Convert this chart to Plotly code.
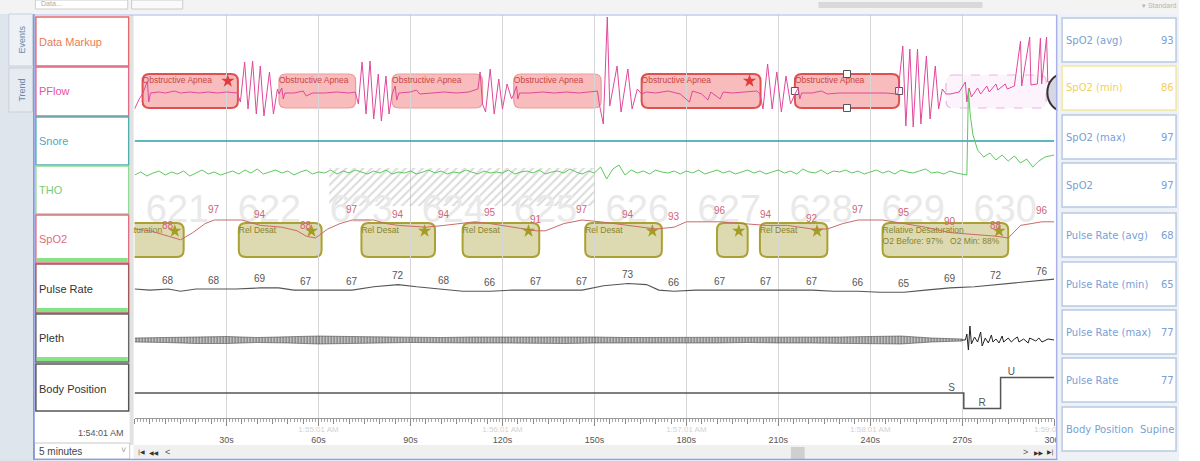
import plotly.graph_objects as go

# ---------------------------------------------------------------- data
epoch_no = [621, 622, 623, 624, 625, 626, 627, 628, 629, 630]
epoch_mid = [14, 44, 74, 104, 134, 164, 194, 224, 254, 284]

apnea_start = [2.6, 47.1, 84.0, 123.7, 165.4, 215.4]
apnea_end = [33.7, 72.1, 113.5, 152.2, 204.2, 249.4]
apnea_label = ["Obstructive Apnea"] * 6
apnea_flagged = [True, False, False, False, True, True]
apnea_star_t = [30.4, 200.6]
apnea_selected = 5
pending_start, pending_end = 264.7, 297.4

desat_start = [-22.0, 34.0, 74.0, 107.0, 147.0, 190.0, 204.0, 244.0]
desat_end = [16.0, 61.0, 98.0, 132.0, 172.0, 200.0, 226.0, 285.0]
desat_label = ["Relative Desaturation", "Rel Desat", "Rel Desat", "Rel Desat",
               "Rel Desat", "", "Rel Desat", "Relative Desaturation"]
desat_star_t = [13.1, 57.7, 94.6, 128.5, 168.9, 197.1, 222.6, 282.0]
desat_detail = "O2 Before: 97%   O2 Min: 88%"

artifact_start, artifact_end = 63.5, 150.0

value_label_t = [11, 26, 41, 56, 71, 86, 101, 116, 131, 146,
                 161, 176, 191, 206, 221, 236, 251, 266, 281, 296]

spo2_t = [0, 5, 11, 15, 19, 23, 26, 35, 41, 48,
          53, 56, 59, 63, 67, 71, 78, 82, 86, 95,
          101, 106, 111, 116, 124, 131, 134, 140, 146, 152,
          161, 170, 176, 180, 191, 200, 206, 213, 221, 226,
          231, 236, 244, 251, 258, 266, 275, 281, 285, 289,
          296, 300]
spo2_v = [92, 91, 88, 86, 90, 95, 97, 97, 94, 93,
          91, 88, 87, 92, 95, 97, 97, 95, 94, 93,
          94, 95, 96, 95, 93, 91, 91, 95, 97, 96,
          94, 92, 93, 96, 96, 95, 94, 94, 92, 92,
          95, 97, 97, 95, 93, 90, 89, 88, 87, 94,
          96, 96]

pulse_t = [0, 5, 11, 15, 20, 26, 33, 41, 47, 52,
           56, 63, 71, 78, 86, 92, 101, 107, 116, 123,
           131, 138, 146, 153, 161, 167, 171, 176, 183, 191,
           198, 206, 213, 221, 228, 236, 243, 251, 258, 266,
           274, 281, 288, 296, 300]
pulse_v = [68, 67, 68, 66, 68, 68, 68, 69, 69, 67,
           67, 67, 67, 70, 72, 70, 68, 66, 66, 67,
           67, 67, 67, 71, 73, 72, 67, 66, 67, 67,
           67, 67, 67, 67, 66, 66, 65, 65, 67, 69,
           70, 72, 74, 76, 77]

pflow_pts = [
    (0, -15), (1.5, -5), (2.6, 0),
    (4.2, 13), (4.6, -8), (5.2, 1), (8, 2), (10, 1), (13, 3), (15, 1), (18, 2), (21, 1),
    (24, 2), (27, 1), (30, 2), (33.5, 1),
    (34.5, -8), (35.9, 32), (37, -15), (38.5, 33), (39.7, -20), (41, 28), (42.2, -22),
    (44, 22), (45.3, -20), (46.6, 5), (47.1, 0),
    (48, 6), (48.5, -5), (49, 1), (52, 1), (55, 3), (56, -2), (58, 1), (62, 1), (66, 2),
    (70, 1), (72, 2),
    (73, -10), (74.2, 32), (75.5, -20), (76.8, 33), (78, -25), (79.5, 20), (80.5, -27),
    (82, 18), (83, -20), (84, 0),
    (85, 8), (85.5, -6), (86.2, 1), (90, 2), (92, 4), (93, 0), (97, 1), (101, 2), (105, 1),
    (109, 2), (112, 5), (112.7, 22), (113.5, -10),
    (114.5, -18), (116, 25), (117.3, -20), (118.8, 15), (120, -15), (121.5, 10), (123, -5),
    (123.7, 0),
    (124.6, 8), (125, -5), (125.6, 1), (129, 1), (133, 2), (137, 1), (141, 2), (145, 1),
    (149, 2), (151, 3), (151.6, -10), (152.2, -20),
    (152.9, -30), (154.2, 77), (155, -12), (157.4, 28), (158.7, -18), (160.9, 25),
    (162.3, -15), (164, 5), (165.4, 0),
    (167, 2), (170, 1), (174, 3), (178, 0), (181, -8), (182, 3), (185, 0), (187, -6), (188, 2),
    (191, -5), (192, 2), (195, 1), (199, 2), (203, 3), (204, 0),
    (205, -15), (206.5, 30), (208, -15), (209.5, 22), (211, -18), (212.5, 18), (214, -10),
    (215.4, 0),
    (216.5, 6), (217, -5), (217.6, 1), (221, 1), (224, 3), (226, 0), (230, 1), (235, 1),
    (240, 1), (245, 1), (249, 0),
    (250.6, 48), (251.6, -32), (252.9, 45), (254, -33), (255.4, 45), (256.5, -30),
    (258.3, 38), (259.5, -25), (261.2, 28), (262.3, -15), (263.5, 5), (264.7, 0),
    (266, 0), (269, 2), (271, 12), (271.5, -8), (272.2, 6), (273, -3), (275, 6), (276, 0),
    (278, 8), (278.8, 2), (281, 10), (281.6, 4), (284, 10), (284.7, 5), (287, 8), (289, 53),
    (289.4, 8), (292, 57), (292.4, 9), (294.5, 10), (295.5, 56), (295.9, 10), (297.5, 57),
    (297.9, 12), (300, 12),
]
pflow_t = [p[0] for p in pflow_pts]
pflow_v = [p[1] for p in pflow_pts]

snore_t = [0, 300]
snore_v = [0, 0]

# thoracic effort, one reading every 2 s up to 268 s, then the arousal burst
tho_v_regular = [
    0, 3, -1, 2, 4, 0, 3, 1, 4, -1, 2, 5, 1, 3, 0,
    2, 4, 1, 5, 2, 6, 1, 3, 5, 2, 4, 0, 3, 5, 1,
    3, 2, 5, 1, 4, 2, 5, 3, 1, 4, 2, 5, 1, 3, 2,
    4, 1, 3, 5, 2, 4, 1, 3, 2, 5, 3, 1, 4, 2, 3,
    2, 5, 1, 3, 4, 2, 5, 1, 3, 4, 2, 6, 3, 1, 4,
    2, 8, -4, 6, 10, 0, 5, 2, 4, 1, 5, 3, 2, 4, 1,
    4, 2, 5, 1, 3, 5, 2, 4, 1, 3, 5, 2, 4, 1, 3,
    5, 2, 4, 1, 6, 3, 2, 5, 1, 4, 3, 5, 2, 4, 1,
    3, 5, 2, 4, 1, 5, 3, 2, 4, 6, 2, 3, 1, 4, 2,
]
tho_t_regular = list(range(0, 270, 2))
tho_t_burst = [270, 271.5, 272, 272.6, 273.5, 275, 277, 279, 281, 283, 285, 287, 289,
               291, 293, 295, 297, 300]
tho_v_burst = [1, 0, 85, 60, 40, 25, 18, 22, 15, 20, 14, 19, 12, 16, 8, 14, 18, 20]
tho_t = tho_t_regular + tho_t_burst
tho_v = tho_v_regular + tho_v_burst

# pleth: half-height of the pulse envelope every 10 s, then the irregular tail
pleth_env_t = [0, 10, 20, 30, 40, 50, 60, 70, 80, 90, 100, 110, 120, 130,
               140, 150, 160, 170, 180, 190, 200, 210, 220, 230, 240, 250, 260, 270]
pleth_env_a = [2, 2.5, 3.5, 3.5, 2.5, 3, 4, 3.5, 3, 2.5, 2.5, 3, 3, 3,
               3.5, 3, 2.5, 2.5, 3, 3, 2.5, 3, 3, 3, 3.5, 4, 2, 1]
pleth_tail = [(270, 0), (271, 0), (271.5, 6), (272, -10), (272.5, 14), (273, -4), (274, 3),
              (275, -2), (276, 8), (276.5, -6), (277.5, 2), (278.5, -3), (279.5, 5),
              (280, -2), (281, 1), (282, -3), (283, 4), (283.5, -2), (285, 2), (286, -2),
              (287, 1), (288, 3), (288.5, -2), (290, 1), (291.5, -3), (292, 2), (294, -1),
              (295, 2), (296, -2), (298, 1), (300, 0)]

body_t = [0, 270.5, 282.5, 300]
body_pos = ["S", "R", "U", "U"]
body_label_t = [266.5, 276.5, 286.0]
body_label = ["S", "R", "U"]

channels = ["Data Markup", "PFlow", "Snore", "THO", "SpO2",
            "Pulse Rate", "Pleth", "Body Position"]
channel_text = ["#ea7c54", "#e455a4", "#4aa8c4", "#78cc78", "#e46a80",
                "#333333", "#333333", "#333333"]
channel_edge = ["#e36a6a", "#e46a8a", "#4fb0b0", "#93d993", "#e07080",
                "#a05858", "#666666", "#555555"]

stat_names = ["SpO2 (avg)", "SpO2 (min)", "SpO2 (max)", "SpO2", "Pulse Rate (avg)",
              "Pulse Rate (min)", "Pulse Rate (max)", "Pulse Rate", "Body Position"]
stat_values = ["93", "86", "97", "97", "68", "65", "77", "77", "Supine"]
stat_highlight = 1

tick_t = [30, 60, 90, 120, 150, 180, 210, 240, 270, 300]
clock_t = [60, 120, 180, 240, 300]
clock_text = ["1:55:01 AM", "1:56:01 AM", "1:57:01 AM", "1:58:01 AM", "1:59:01 AM"]

# ---------------------------------------------------------------- geometry
W, H = 1200, 461
L, R, TOP, BOT = 137, 1073, 15, 418
SEC_PX = (R - L) / 300.0


def fx(px):
    return px / W


def fy(py):
    return 1 - py / H


def yrange(anchor_py, anchor_val, px_per_unit):
    return [anchor_val - (BOT - anchor_py) / px_per_unit,
            anchor_val + (anchor_py - TOP) / px_per_unit]


def rounded(x0, x1, y0, y1, r=7):
    rx, ry = r / SEC_PX, r
    return (f"M{x0 + rx},{y0} L{x1 - rx},{y0} Q{x1},{y0} {x1},{y0 + ry} "
            f"L{x1},{y1 - ry} Q{x1},{y1} {x1 - rx},{y1} L{x0 + rx},{y1} "
            f"Q{x0},{y1} {x0},{y1 - ry} L{x0},{y0 + ry} Q{x0},{y0} {x0 + rx},{y0} Z")


FONT = "Liberation Sans, Arial, sans-serif"
fig = go.Figure()


def add(trace):
    trace.update(hoverinfo="skip", showlegend=False)
    fig.add_trace(trace)


# hatched artifact span
add(go.Scatter(x=[artifact_start, artifact_end, artifact_end, artifact_start, artifact_start],
               y=[168, 168, 206, 206, 168], xaxis="x", yaxis="y", mode="lines",
               fill="toself", fillcolor="rgba(255,255,255,0)",
               fillpattern=dict(shape="/", fgcolor="#b8b8b8", size=6, solidity=0.35),
               line=dict(width=0)))

# epoch numbers
add(go.Scatter(x=epoch_mid, y=[212] * len(epoch_no), xaxis="x", yaxis="y", mode="text",
               text=[str(n) for n in epoch_no],
               textfont=dict(family=FONT, size=38, color="#e9e9e9")))

# signals
add(go.Scatter(x=snore_t, y=snore_v, xaxis="x", yaxis="y3", mode="lines",
               line=dict(color="#2aa0a8", width=1.6)))
add(go.Scatter(x=tho_t, y=tho_v, xaxis="x", yaxis="y4", mode="lines",
               line=dict(color="#5cc85c", width=1)))
add(go.Scatter(x=pflow_t, y=pflow_v, xaxis="x", yaxis="y2", mode="lines",
               line=dict(color="#e0489a", width=1)))
add(go.Scatter(x=spo2_t, y=spo2_v, xaxis="x", yaxis="y5", mode="lines",
               line=dict(color="#c96a6a", width=1)))
add(go.Scatter(x=pulse_t, y=pulse_v, xaxis="x", yaxis="y6", mode="lines",
               line=dict(color="#555555", width=1.1)))
add(go.Scatter(x=pleth_env_t + pleth_env_t[::-1],
               y=pleth_env_a + [-a for a in pleth_env_a[::-1]],
               xaxis="x", yaxis="y7", mode="lines", fill="toself",
               fillcolor="rgba(150,150,150,0.45)",
               fillpattern=dict(shape="|", fgcolor="#111111", size=3, solidity=0.45),
               line=dict(color="#333333", width=0.5)))
add(go.Scatter(x=[p[0] for p in pleth_tail], y=[p[1] for p in pleth_tail],
               xaxis="x", yaxis="y7", mode="lines", line=dict(color="#222222", width=1)))
add(go.Scatter(x=body_t, y=body_pos, xaxis="x", yaxis="y8", mode="lines",
               line=dict(color="#555555", width=1.5, shape="hv")))

body_at = dict(zip(body_label_t, body_label))
add(go.Scatter(x=body_label_t, y=[body_at[t] for t in body_label_t], xaxis="x", yaxis="y8",
               mode="text", text=body_label, textposition="top center",
               textfont=dict(family=FONT, size=10, color="#555555")))

# event captions
add(go.Scatter(x=apnea_start, y=[81] * len(apnea_start), xaxis="x", yaxis="y",
               mode="text", text=apnea_label, textposition="middle right", cliponaxis=False,
               textfont=dict(family=FONT, size=8.5, color="#c84444")))
# the first desaturation began before the page; its caption runs in from the left
add(go.Scatter(x=[9.0], y=[231], xaxis="x", yaxis="y",
               mode="text", text=[desat_label[0]], textposition="middle left", cliponaxis=False,
               textfont=dict(family=FONT, size=8.5, color="#8a8428")))
add(go.Scatter(x=desat_start[1:], y=[231] * (len(desat_start) - 1), xaxis="x", yaxis="y",
               mode="text", text=desat_label[1:], textposition="middle right",
               cliponaxis=False, textfont=dict(family=FONT, size=8.5, color="#8a8428")))
add(go.Scatter(x=[desat_start[-1]], y=[242], xaxis="x", yaxis="y",
               mode="text", text=[desat_detail], textposition="middle right",
               textfont=dict(family=FONT, size=8.5, color="#8a8428")))
add(go.Scatter(x=apnea_star_t, y=[81] * len(apnea_star_t), xaxis="x", yaxis="y",
               mode="markers", marker=dict(symbol="star", size=10, color="#e23a3a")))
add(go.Scatter(x=desat_star_t, y=[231] * len(desat_star_t), xaxis="x", yaxis="y",
               mode="markers", marker=dict(symbol="star", size=10, color="#a39d22")))

s0, s1 = apnea_start[apnea_selected], apnea_end[apnea_selected]
add(go.Scatter(x=[(s0 + s1) / 2, (s0 + s1) / 2, s0, s1], y=[74, 108, 91, 91],
               xaxis="x", yaxis="y", mode="markers",
               marker=dict(symbol="square", size=7, color="white",
                           line=dict(color="#555555", width=1))))

# axis carrier for the 5 s ruler ticks and clock labels
add(go.Scatter(x=[0, 300], y=[None, None], xaxis="x2", yaxis="y", mode="lines"))

# ---------------------------------------------------------------- shapes
shapes = []
for a0, a1, strong in zip(apnea_start, apnea_end, apnea_flagged):
    shapes.append(dict(type="path", xref="x", yref="y", path=rounded(a0, a1, 74, 108),
                       fillcolor="rgba(236,80,80,0.38)", layer="below",
                       line=dict(color="#e05050" if strong else "#eb9b9b",
                                 width=2 if strong else 1.2)))
shapes.append(dict(type="path", xref="x", yref="y",
                   path=rounded(pending_start, pending_end, 75, 108),
                   fillcolor="rgba(250,215,245,0.3)", layer="below",
                   line=dict(color="#efb2e6", width=1.2, dash="dash")))
for d0, d1 in zip(desat_start, desat_end):
    shapes.append(dict(type="path", xref="x", yref="y", path=rounded(d0, d1, 223, 257),
                       fillcolor="rgba(170,160,60,0.40)", layer="below",
                       line=dict(color="#a9a232", width=2)))


def rect(x0, y0, x1, y1, fill, edge=None, lw=1.0):
    line = dict(color=edge, width=lw) if edge else dict(width=0)
    return dict(type="rect", xref="paper", yref="paper", layer="above",
                x0=fx(x0), x1=fx(x1), y0=fy(y1), y1=fy(y0), fillcolor=fill, line=line)


def hline(x0, x1, y, color, lw=1.0):
    return dict(type="line", xref="paper", yref="paper", layer="above",
                x0=fx(x0), x1=fx(x1), y0=fy(y), y1=fy(y), line=dict(color=color, width=lw))


def vline(x, y0, y1, color, lw=1.0):
    return dict(type="line", xref="paper", yref="paper", layer="above",
                x0=fx(x), x1=fx(x), y0=fy(y0), y1=fy(y1), line=dict(color=color, width=lw))


# drag knob at the right end of the flow row
shapes.append(dict(type="circle", xref="paper", yref="paper", layer="above",
                   x0=fx(1066), x1=fx(1098), y0=fy(111), y1=fy(74),
                   fillcolor="#d6d6e4", line=dict(color="#333333", width=2)))

shapes += [
    rect(0, 0, 1200, 14, "#f3f3f3"),
    rect(36, 0, 130, 9, "#ffffff", "#cccccc"),
    rect(134, 0, 186, 9, "#fafafa", "#cccccc"),
    rect(833, 2, 1000, 8, "#d9d9d9"),
    rect(0, 14, 34, 461, "#dfe5ec"),
    rect(9, 14, 33, 66, "#eef2f6", "#c6d0dc"),
    rect(9, 68, 33, 112, "#e6ebf1", "#c6d0dc"),
    rect(35, 15, 132, 461, "#ffffff"),
    rect(132, 15, 136, 445, "#e2e2e2"),
    rect(1076, 14, 1200, 461, "#eef2f7"),
    rect(136, 445, 1075, 459, "#f0f0f0"),
    rect(805, 447, 819, 459, "#cfcfcf"),
    rect(35, 443, 132, 459, "#ffffff", "#c8c8c8"),
]
row_box = [(17, 66), (67, 116), (117, 165), (166, 214), (215, 263), (264, 313),
           (314, 362), (364, 411)]
for (y0, y1), edge in zip(row_box, channel_edge):
    shapes.append(rect(36.5, y0, 131, y1, "#ffffff", edge, 1.5))
for y_bar in (258, 308, 357):
    shapes.append(rect(37.5, y_bar, 130, y_bar + 4, "#86e386"))

stat_top = [18, 66, 115, 163, 213, 262, 310, 358, 407]
for i, y0 in enumerate(stat_top):
    edge = "#f3e7a0" if i == stat_highlight else "#b9c9e2"
    shapes.append(rect(1081, y0, 1197, y0 + 44, "#ffffff", edge, 1.5))

shapes += [
    vline(34.5, 14, 460, "#7088e0", 1.5),
    hline(34, 1076, 15, "#a8b2e8", 1.2),
    vline(1075.5, 15, 460, "#a8b2e8", 1.5),
    hline(34, 1076, 459.5, "#8ea2e2", 1.5),
]

# ---------------------------------------------------------------- annotations
ann = []

# value read-outs every 15 s, lifted just above their trace
spo2_at = dict(zip(spo2_t, spo2_v))
pulse_at = dict(zip(pulse_t, pulse_v))
for t in value_label_t:
    ann.append(dict(xref="x", yref="y5", x=t, y=spo2_at[t], yshift=11, showarrow=False,
                    text=str(spo2_at[t]), font=dict(family=FONT, size=10, color="#d0657a")))
    ann.append(dict(xref="x", yref="y6", x=t, y=pulse_at[t], yshift=9, showarrow=False,
                    text=str(pulse_at[t]), font=dict(family=FONT, size=10, color="#555555")))


def text(x, y, s, color, size, anchor="left", family=FONT, angle=0):
    ann.append(dict(xref="paper", yref="paper", x=fx(x), y=fy(y), text=s,
                    showarrow=False, xanchor=anchor, yanchor="middle", textangle=angle,
                    font=dict(family=family, size=size, color=color)))


row_mid = [42, 91, 141, 190, 239, 289, 338, 389]
for name, col, y in zip(channels, channel_text, row_mid):
    text(38, y, name, col, 11)
text(22, 40, "Events", "#6b88a8", 9, anchor="center", angle=-90)
text(22, 90, "Trend", "#6b88a8", 9, anchor="center", angle=-90)
text(128, 433, "1:54:01 AM", "#555555", 9, anchor="right")
text(38, 451, "5 minutes", "#444444", 10)
text(126, 450, "˅", "#999999", 9, anchor="center")
text(40, 4, "Data...", "#aaaaaa", 7)
text(1160, 5, "▾ Standard", "#b5b5b5", 7)
text(144, 452, "|◀", "#333333", 6, anchor="center", family="DejaVu Sans")
text(157, 452, "◀◀", "#333333", 6, anchor="center", family="DejaVu Sans")
text(170, 452, "<", "#555555", 9, anchor="center")
text(1044, 452, ">", "#555555", 9, anchor="center")
text(1057, 452, "▶▶", "#333333", 6, anchor="center", family="DejaVu Sans")
text(1069, 452, "▶|", "#333333", 6, anchor="center", family="DejaVu Sans")

for i, (name, val, y0) in enumerate(zip(stat_names, stat_values, stat_top)):
    col = "#f0d060" if i == stat_highlight else "#78a0d6"
    text(1083, y0 + 22, name, col, 10, family="DejaVu Sans")
    text(1197, y0 + 22, val, col, 10, anchor="right", family="DejaVu Sans")

# ---------------------------------------------------------------- layout
dom = [fy(BOT), fy(TOP)]
hidden = dict(domain=dom, visible=False, fixedrange=True, anchor="x")
layout = dict(
    width=W, height=H, margin=dict(l=0, r=0, t=0, b=0),
    paper_bgcolor="white", plot_bgcolor="white", showlegend=False,
    shapes=shapes, annotations=ann,
    xaxis=dict(domain=[fx(L), fx(R)], range=[0, 300], anchor="y", fixedrange=True,
               tickmode="array", tickvals=tick_t, ticktext=[f"{t}s" for t in tick_t],
               ticks="outside", ticklen=7, tickcolor="#888888",
               showline=True, linecolor="#9a9a9a", linewidth=1, zeroline=False,
               showgrid=True, gridcolor="#d6d6d6", gridwidth=1,
               tickfont=dict(family=FONT, size=9, color="#555555"),
               ticklabelstandoff=6,
               minor=dict(tickmode="linear", tick0=0, dtick=1, ticks="outside",
                          ticklen=3, tickcolor="#a5a5a5", showgrid=False)),
    xaxis2=dict(domain=[fx(L), fx(R)], range=[0, 300], anchor="y", overlaying="x",
                fixedrange=True, side="bottom", tickmode="array",
                tickvals=list(range(0, 301, 5)),
                ticktext=[clock_text[clock_t.index(t)] if t in clock_t else ""
                          for t in range(0, 301, 5)],
                ticks="outside", ticklen=5, tickcolor="#8a8a8a", showgrid=False,
                zeroline=False, showline=False,
                tickfont=dict(family=FONT, size=8, color="#d2d2d2"),
                ticklabelstandoff=-2),
    yaxis=dict(range=[BOT, TOP], **hidden),
    yaxis2=dict(range=yrange(94, 0, 1), overlaying="y", **hidden),
    yaxis3=dict(range=yrange(141, 0, 1), overlaying="y", **hidden),
    yaxis4=dict(range=yrange(175, 0, 1), overlaying="y", **hidden),
    yaxis5=dict(range=yrange(220, 97, 1.8), overlaying="y", **hidden),
    yaxis6=dict(range=yrange(289, 68, 1.1), overlaying="y", **hidden),
    yaxis7=dict(range=yrange(340, 0, 1), overlaying="y", **hidden),
    yaxis8=dict(range=yrange(393, 1, 15.5), overlaying="y", type="category",
                categoryorder="array", categoryarray=["R", "S", "U"], **hidden),
)
fig.update_layout(**layout)
fig.write_html("out.html")
